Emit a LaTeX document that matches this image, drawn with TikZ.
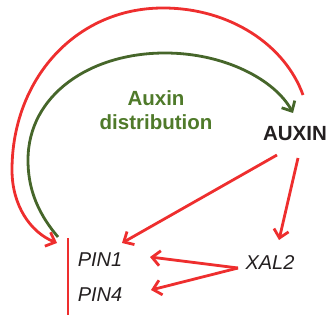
\documentclass[tikz,border=0pt]{standalone}
\usepackage{fontspec}
\setmainfont{Liberation Sans}
\usetikzlibrary{arrows.meta}
\definecolor{arrowred}{HTML}{EE2E2E}
\definecolor{leafgreen}{HTML}{46662A}
\definecolor{textgreen}{HTML}{4F7A2A}
\definecolor{ink}{HTML}{231F20}
\begin{document}
\begin{tikzpicture}[x=1pt,y=-1pt,
  label/.style={inner sep=0pt, font=\fontsize{20}{24}\selectfont, text=ink},
  gene/.style={label, font=\fontsize{20}{24}\selectfont\itshape},
  heading/.style={label, font=\fontsize{20.5}{24}\selectfont\bfseries},
  redarrow/.style={draw=arrowred, line width=2.8pt,
    -{Straight Barb[length=8pt,width=15pt]}},
  greenarrow/.style={draw=leafgreen, line width=2.8pt,
    -{Straight Barb[length=8pt,width=15pt]}},
  redbar/.style={draw=arrowred, line width=2.8pt}]
\useasboundingbox (0,0) rectangle (331,320);

% labels
\node[heading] (auxin) at (295,134) {AUXIN};
\node[heading, text=textgreen, align=center]
  (dist) at (156,110) {Auxin\\distribution};
\node[gene] (pin1) at (100,260) {PIN1};
\node[gene] (pin4) at (100,295) {PIN4};
\node[gene] (xal2) at (270,263) {XAL2};

% end points of the connectors
\coordinate (bartop) at (68,238);
\coordinate (barbot) at (68,315);
\coordinate (loopin) at (57,243);
\coordinate (loopout) at (303,95);
\coordinate (greenstart) at (58,237);
\coordinate (greenend) at (293,113);
\coordinate (auxA) at (277,155);
\coordinate (auxB) at (298,158);
\coordinate (pin1head) at (122,243);
\coordinate (xal2head) at (279,240);
\coordinate (xal2out) at (238,268);
\coordinate (pin1in) at (150,257);
\coordinate (pin4in) at (151,290);

% inhibition bar beside the PIN genes
\draw[redbar] (bartop) -- (barbot);

% outer feedback loop from AUXIN back to the PIN genes
\draw[redarrow] (loopout) .. controls (285,45) and (230,8) .. (163,8)
  .. controls (75,8) and (12,80) .. (12,170)
  .. controls (12,205) and (30,232) .. (loopin);

% auxin distribution by the PIN genes
\draw[greenarrow] (greenstart) .. controls (35,210) and (28,185) .. (28,160)
  .. controls (28,95) and (90,53) .. (165,53)
  .. controls (225,53) and (275,80) .. (greenend);

% regulation by AUXIN and XAL2
\draw[redarrow] (auxA) -- (pin1head);
\draw[redarrow] (auxB) -- (xal2head);
\draw[redarrow] (xal2out) -- (pin1in);
\draw[redarrow] (xal2out) -- (pin4in);
\end{tikzpicture}
\end{document}
